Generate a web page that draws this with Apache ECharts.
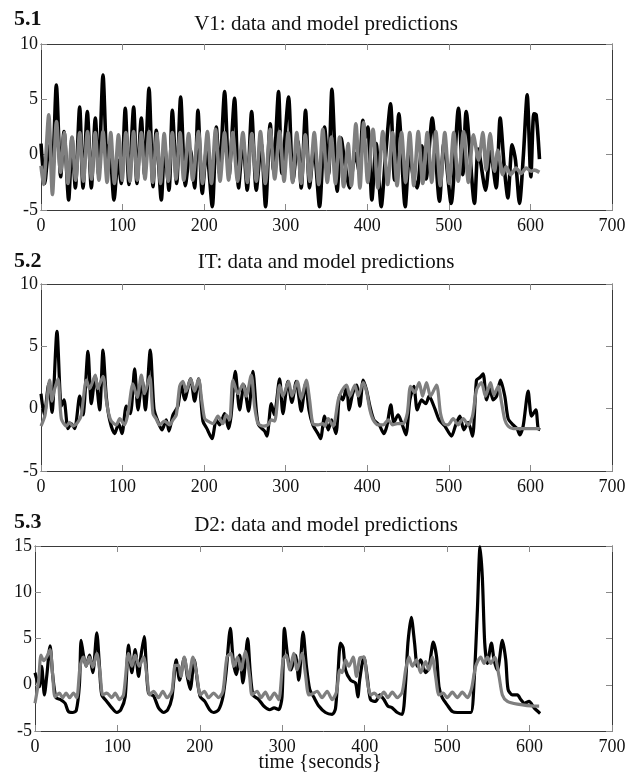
<!DOCTYPE html>
<html>
<head>
<meta charset="utf-8">
<script src="https://cdn.jsdelivr.net/npm/echarts@6/dist/echarts.min.js"></script>
<style>
html, body { margin: 0; padding: 0; background: #fff; }
#chart { width: 635px; height: 778px; }
</style>
</head>
<body>
<div id="chart"></div>
<script>
// V1 - data (black) and model (gray), read at the turning points
const v1DataT = [0, 4.5, 10, 14, 18.8, 24.1, 28.2, 33.9, 38, 42.1, 47.4, 51.5, 56.8, 61.7, 66.6, 70.7, 76, 81.3, 84, 89.5, 94.4, 98.4, 103.3, 107.8, 113.6, 117.6, 123, 127, 132.4, 137.3, 141.3, 147.5, 151.5, 156.9, 161, 166.3, 171.2, 177, 183, 188.3, 192.4, 197.7, 203, 210, 214.9, 218.9, 225.1, 230.4, 237.3, 242.2, 247.5, 252.8, 258.2, 263.9, 270, 275.3, 281, 285.1, 291.2, 295.3, 303.5, 308.8, 314.9, 319, 324.3, 329.2, 334.5, 341.5, 347.6, 352.5, 356.6, 363.1, 368, 372, 378.3, 385.2, 390, 394.6, 397.5, 400.7, 405.6, 410.9, 417.1, 422, 428.5, 433.4, 438.7, 446.5, 451.8, 456, 461.2, 467, 472, 479.6, 488.5, 493.9, 502.8, 511.8, 517.1, 521.2, 531.4, 536, 545, 551, 558, 562.9, 568.2, 572.3, 577.6, 581.7, 586.6, 591.5, 596, 600.5, 604.2, 607, 611.1]
const v1DataV = [1.0, -2.6, 0.8, -0.8, 6.3, -2.0, 2.1, -4.1, 1.5, -3.0, 4.3, -3.0, 3.9, -3.0, 3.3, -1.8, 7.2, -1.4, 1.0, -4.1, -0.5, -2.6, 4.2, -2.7, 4.3, -2.6, 3.3, -1.8, 6.0, -2.9, 2.2, -4.1, 0.7, -3.2, 4.0, -2.6, 5.2, -2.8, 0.5, -3.0, 4.0, -3.5, 0.5, -4.7, 2.5, -1.7, 5.7, -2.0, 5.1, -3.0, 1.3, -3.2, 3.9, -3.2, 1.0, -4.7, 2.8, -1.4, 5.7, -1.7, 5.2, -2.4, 1.2, -3.0, 4.0, -3.0, 0.7, -4.7, 2.5, -1.8, 5.9, -3.3, 1.5, -0.5, -3.0, 0.1, -1.5, 3.1, 1.5, 2.5, -4.1, 1.0, -4.7, -0.5, 4.6, -2.3, 3.7, -4.7, 0.1, -1.8, -3.0, 0.8, -2.2, 3.3, -4.2, 1.0, -4.4, 4.2, -1.8, 3.9, -4.4, 0.5, -3.2, 0.3, -3.0, 3.3, -1.4, -3.9, 0.9, -0.5, -4.4, 0.1, 5.4, -2.0, 3.7, 3.6, -0.4]
const v1ModelT = [0, 3, 9.5, 14, 19, 24, 28.5, 33, 38, 42.5, 47.5, 52, 57, 62, 66.5, 71, 76, 81, 85.5, 90, 95, 99.5, 104, 109, 113.5, 118, 123, 127.5, 132.5, 137, 142, 146.5, 151, 156, 161, 165.5, 170.5, 175, 181, 186, 193, 198, 204, 209, 214, 219.5, 225, 230, 235, 241, 247.5, 253, 258.5, 264, 269, 275, 281, 286.5, 292.5, 298, 303, 308.5, 313.5, 319, 324, 329.5, 335, 340.5, 345.5, 351, 356, 361, 366, 371, 376.5, 380.5, 386, 391, 395.5, 400.5, 407, 413, 419, 425, 431, 436.5, 442, 447, 452, 457, 462.5, 468, 473.5, 479, 484, 489.5, 495, 500.5, 506, 511.5, 518, 524, 530, 536.5, 541.7, 545.7, 550.6, 556, 560, 566, 570, 576, 582.5, 588.6, 594.8, 601, 605, 611]
const v1ModelV = [-1.0, -2.7, 3.6, -3.6, 3.0, -1.6, 2.0, -2.6, 1.6, -2.3, 2.0, -2.4, 2.1, -2.2, 2.0, -2.3, 2.1, -2.5, 2.0, -2.6, 1.8, -2.3, 2.0, -2.4, 2.1, -2.3, 2.0, -2.2, 2.1, -2.5, 1.9, -2.6, 1.9, -2.4, 2.0, -2.2, 2.0, -2.3, 1.9, -2.3, 2.1, -2.6, 2.1, -2.6, 2.3, -2.4, 2.0, -2.3, 2.0, -2.4, 2.0, -2.5, 1.9, -2.4, 2.1, -2.6, 2.3, -2.2, 2.1, -2.4, 2.0, -2.5, 2.0, -2.6, 1.8, -2.4, 2.0, -2.7, 2.3, -2.5, 1.6, -2.6, 1.6, -2.9, 1.0, -2.8, 2.8, -3.0, 2.9, -2.5, 2.3, -3.0, 2.1, -2.7, 2.0, -2.8, 2.0, -2.5, 2.0, -2.8, 2.1, -2.6, 2.0, -2.5, 2.1, -2.8, 2.0, -2.6, 2.0, -2.4, 2.1, -2.5, 1.8, -0.5, 2.0, -1.4, 1.9, -1.5, 0.4, -1.8, -1.1, -1.8, -1.2, -1.7, -1.2, -1.5, -1.4, -1.6]

// IT
const itDataT = [0, 4, 9.5, 13.5, 19.6, 24.9, 28.2, 33.1, 37, 41.3, 47.4, 51.5, 57.6, 61.7, 66.6, 71.9, 76, 80, 84.1, 90.3, 95.2, 99.3, 104.6, 109.5, 114.8, 118.9, 124.2, 127.9, 134, 138.5, 142.6, 148.3, 153.6, 156.9, 161.8, 167.9, 172, 176.1, 183.4, 188.3, 193.2, 198.5, 203.4, 209.6, 214.9, 219, 225.1, 230, 233, 238.2, 243.5, 248.8, 254.5, 259.8, 263.9, 266.7, 274.1, 277, 282.3, 286, 292.5, 296.6, 302.7, 307.6, 312.9, 319, 324.3, 328.5, 333.3, 339.5, 342.7, 347.6, 352.1, 356.2, 361.5, 366.4, 370, 374.6, 377.8, 382, 386.8, 390.9, 395, 399, 403.2, 408.1, 414.6, 420.3, 424, 428.9, 432.6, 437.9, 442, 447.3, 452.2, 457.1, 461.2, 466.5, 471.8, 475.8, 482.8, 488.1, 495.1, 503.3, 508.4, 513.5, 518.4, 523.7, 529, 533.9, 538, 542, 546.2, 550.3, 554.3, 558.5, 563.3, 568.6, 572.7, 578.8, 583.7, 587, 591.1, 597.2, 601.3, 606.6, 609.5, 612]
const itDataV = [1.2, -0.5, 2.0, -0.3, 6.2, 0.2, 0.7, -1.6, -1.2, -1.6, 1.0, -0.5, 4.6, 0.4, 2.6, -0.1, 4.7, 1.0, -0.9, -2.0, -1.2, -2.0, 0.2, -0.4, 3.2, -0.1, 2.3, -0.1, 4.7, 0.0, -0.9, -1.7, -0.9, -1.8, -0.5, 0.2, 2.0, 0.7, 2.4, 0.6, 2.4, -1.0, -1.6, -2.4, -0.9, -1.3, -0.4, -1.6, -0.6, 3.0, -0.1, 1.9, -0.2, 3.0, -0.1, -1.3, -1.8, -2.2, 0.4, -0.5, 2.4, -0.4, 2.2, 0.5, 2.2, -0.2, 2.0, -0.1, -1.3, -2.0, -2.4, -0.6, -1.7, -0.9, -2.0, 1.1, 0.7, 1.8, -0.1, 1.2, 1.9, 0.2, 2.3, 1.5, 0.2, -0.9, -1.3, -2.0, -1.4, 0.3, -1.1, -0.5, -1.1, -2.1, 0.7, 1.8, -0.1, 0.7, 0.4, 1.0, 0.0, -0.9, -1.4, -2.2, -1.3, -0.6, -1.7, -1.1, -2.2, 2.3, 2.5, 2.8, 0.7, 1.6, 0.7, 1.0, 2.3, 1.0, -0.8, -1.3, -1.6, -2.1, -1.4, 1.4, -0.6, -0.1, -1.6, -1.7]
const itModelT = [0, 5, 10.6, 13.5, 16, 20.8, 24.9, 31, 35, 39, 45, 49.4, 55.6, 59.5, 66.6, 69.5, 76, 80, 83, 86.2, 92.3, 96.5, 102.5, 106.6, 112.7, 118, 123, 127, 133.2, 137.3, 141, 145.4, 151.5, 157.7, 161.8, 165.9, 170, 174, 178, 183.4, 188.3, 193.2, 197, 200.6, 204.7, 210.8, 216.9, 222.9, 227, 231.2, 235.3, 241.4, 247.6, 251.6, 257.8, 261.8, 266, 272.1, 278, 282.3, 286.4, 292.5, 296.6, 303.5, 307.6, 314.1, 319, 325.2, 329.3, 333.3, 339.5, 345.6, 348, 352.1, 358.2, 364.4, 368.5, 374.6, 378.7, 384.8, 388.9, 395, 399, 403.2, 407.3, 413.4, 419.5, 425.6, 431, 436.7, 444, 449, 453, 458, 463.6, 467.7, 472.6, 477.5, 484.9, 489.8, 493.9, 499, 505.3, 511.4, 517.6, 523.7, 529, 533.9, 540, 544.9, 551.1, 555.2, 560.5, 564.6, 568.6, 572.7, 578.8, 611.5]
const itModelV = [-1.4, -0.5, 2.3, 0.6, 1.4, 2.4, -0.8, -1.4, -1.1, -1.4, -1.1, -0.5, 2.3, 1.6, 2.7, 1.6, 2.6, 0.7, -0.4, -1.0, -1.3, -0.8, -1.3, -0.4, 2.0, 0.9, 2.7, 1.2, 2.6, -0.4, -0.8, -1.3, -1.0, -1.3, -0.9, -0.5, 1.8, 2.2, 1.4, 2.4, 1.4, 2.4, 0.7, -0.8, -1.0, -1.2, -0.6, -1.2, -0.5, -0.9, 2.3, 1.2, 2.0, 1.0, 2.7, 0.2, -1.2, -1.4, -1.3, -0.9, -1.0, 1.9, 1.0, 2.2, 1.0, 2.2, 0.8, 2.3, 0.7, -1.2, -1.3, -1.2, -1.4, -0.8, -1.4, 0.7, 1.4, 1.9, 1.0, 1.9, 1.0, 2.1, 1.4, -0.1, -0.9, -1.3, -1.3, -0.9, -1.3, -1.2, -1.2, -0.4, 1.8, 1.3, 2.1, 1.0, 2.1, 1.0, 1.9, -0.4, -1.2, -1.3, -0.8, -1.3, -0.8, -1.3, -0.6, 1.5, 2.1, 1.0, 2.1, 1.1, 1.8, 0.5, -0.9, -1.4, -1.6, -1.6]

// D2
const d2DataT = [0, 5.3, 8.1, 11.4, 14.2, 18.3, 21.5, 25.5, 31, 36.5, 40.5, 45.8, 50, 53.9, 55.9, 58.8, 62, 66, 70.1, 75, 78.2, 81, 87.1, 93.2, 99.3, 104.1, 109.4, 113.4, 117.5, 121.5, 125.6, 128.4, 132.5, 135, 137.7, 143.8, 149.9, 156, 161, 166.1, 171.3, 175.4, 181.1, 185.1, 188.4, 193.2, 197.3, 200.5, 206, 211.8, 216.7, 222.8, 228, 232, 237, 240.5, 244.2, 248.3, 252.3, 258, 261, 264.5, 271.4, 277.5, 284.7, 290, 295.7, 299.7, 302.6, 306.6, 310.6, 315.9, 320, 325.2, 329.3, 333.3, 338, 344.3, 352.4, 360.5, 364.5, 367.4, 370.6, 373.8, 376.7, 382.8, 388.8, 391.7, 394, 399, 403, 407, 413.1, 418.4, 423.3, 428.1, 433.4, 439.5, 445.5, 449.6, 452.4, 456.5, 460.5, 463.8, 467.8, 473.9, 477.9, 483.2, 487.2, 490.1, 494.1, 500.2, 506.3, 512.4, 518.4, 528.6, 532.6, 536.7, 539.9, 542.7, 545.6, 548.8, 553.7, 556.9, 561, 567, 571.1, 573.9, 579.2, 585.3, 589.3, 594, 599.4, 605.5, 612.8]
const d2DataV = [1.3, -0.2, 2.0, -1.1, 0.9, 4.2, 1.0, -1.4, -1.6, -2.0, -2.9, -3.0, -2.8, 0.0, 4.8, 3.2, 2.0, 3.2, 1.3, 5.6, 2.0, -1.1, -1.8, -2.5, -3.0, -2.7, -1.3, 4.3, 1.3, 3.8, 0.9, 3.0, 5.2, 2.0, -0.9, -1.2, -2.5, -3.0, -2.7, -1.4, 2.7, 0.5, 2.9, 0.7, -0.5, 2.7, 0.2, -1.3, -1.8, -2.7, -3.0, -2.7, -1.3, 1.5, 6.1, 2.6, 1.1, 3.2, 0.2, 5.0, 1.5, -1.1, -1.6, -2.3, -2.7, -2.5, -2.7, -1.3, 6.1, 3.0, 1.6, 3.2, 0.5, 5.7, 2.0, -0.5, -1.3, -2.3, -3.0, -3.2, -2.6, 0.9, 4.5, 4.0, 1.6, 0.5, 0.2, -1.3, 0.6, 3.0, 0.9, -1.6, -1.8, -1.1, -1.6, -2.3, -2.5, -3.0, -3.2, 0.2, 4.5, 7.3, 4.5, 2.0, 2.7, 1.3, 1.8, 4.6, 3.0, -0.2, -1.4, -2.2, -2.9, -3.0, -3.0, -3.0, 0.2, 8.1, 14.9, 11.6, 4.5, 2.3, 4.5, 2.7, 1.6, 4.8, 2.7, -0.5, -1.1, -1.1, -1.6, -2.0, -1.8, -2.5, -3.1]
const d2ModelT = [0, 4.1, 7.3, 10.5, 14.2, 18.3, 21.5, 24.3, 29.6, 33.5, 37.7, 42, 46.6, 50.6, 54.7, 58.8, 62, 66, 70.1, 75, 79, 82.2, 87.1, 93.2, 97.2, 102.5, 107.4, 113.4, 117.5, 121.5, 126.4, 131.7, 135.8, 139, 143.8, 149.9, 155.1, 160, 166.1, 170.1, 174.2, 177, 181.1, 186.3, 191.6, 196.5, 200.5, 205.4, 210.6, 216.7, 222.8, 228, 232.9, 237.8, 241, 245.9, 249.9, 255.2, 260.4, 263.3, 269.4, 274.2, 279.5, 284.7, 290.4, 295.7, 301, 305, 309, 313.9, 318, 324, 328, 332.1, 336.2, 342.3, 348.3, 354.4, 360.5, 365.7, 369.8, 372.6, 376.7, 380.8, 386, 390, 394.1, 399, 403, 407, 411.8, 417.2, 423.3, 428.1, 433.4, 439.5, 445.5, 449.6, 453.6, 457.7, 462.9, 467.8, 473.9, 477.9, 482, 486, 490.1, 495.2, 500.2, 506.3, 512.4, 518.4, 524.5, 529.4, 534.6, 540.7, 544.8, 548.8, 553, 557.7, 563, 567, 573.1, 585.3, 605.5, 611.6]
const d2ModelV = [-2.0, 0.2, 3.2, 2.6, 3.0, 3.8, 1.0, -1.3, -0.9, -1.4, -0.9, -1.4, -0.9, -1.4, 2.0, 3.0, 2.0, 3.0, 1.9, 3.4, 1.2, -1.1, -0.9, -1.4, -0.9, -1.6, -1.1, 3.4, 2.0, 3.2, 2.0, 3.0, 0.9, -1.1, -0.7, -1.4, -0.7, -1.4, -0.7, 2.1, 2.1, 0.9, 3.0, 0.7, 3.0, 0.9, -1.1, -0.7, -1.4, -0.9, -1.4, -0.7, 3.0, 3.4, 2.0, 3.0, 1.6, 3.6, 0.9, -1.1, -0.7, -1.4, -0.8, -1.6, -0.9, -1.6, 2.7, 3.2, 1.6, 3.4, 1.6, 3.4, 1.2, -1.1, -1.0, -0.7, -1.4, -0.7, -1.6, -0.8, 1.6, 1.3, 2.7, 2.0, 3.0, 0.9, 2.9, 3.0, 0.5, -1.1, -0.9, -1.4, -0.8, -1.4, -0.8, -1.4, -0.8, 1.6, 3.0, 2.0, 2.7, 1.3, 2.5, 1.6, 3.0, 0.9, -1.1, -0.9, -1.4, -0.8, -1.4, -0.8, -1.4, -0.5, 2.0, 3.0, 2.3, 3.0, 2.3, 3.0, 0.9, -1.1, -1.8, -2.1, -2.3, -2.3]

const panelTitles = ['V1: data and model predictions', 'IT: data and model predictions', 'D2: data and model predictions']
const panelLabels = ['5.1', '5.2', '5.3']
const yRanges = [[-5, 10], [-5, 10], [-5, 15]]

const serif = 'Liberation Serif'
const frame = '#3a3a3a'
const tickColor = '#8a8a8a'

function pairs(t, v) {
  return t.map((x, i) => [x, v[i]])
}

const grids = [
  { left: 41, top: 44, width: 571, height: 166 },
  { left: 41, top: 284, width: 571, height: 187 },
  { left: 35, top: 546, width: 577, height: 185 }
]

const xAxes = []
const yAxes = []
grids.forEach((g, i) => {
  xAxes.push({
    type: 'value', gridIndex: i, min: 0, max: 700, interval: 100, position: 'bottom',
    axisLine: { show: true, onZero: false, lineStyle: { color: frame, width: 1 } },
    axisTick: { show: true, inside: true, length: 6, lineStyle: { color: tickColor } },
    axisLabel: { fontFamily: serif, fontSize: 18, color: '#111', margin: 7 },
    splitLine: { show: false }
  })
  xAxes.push({
    type: 'value', gridIndex: i, min: 0, max: 700, interval: 100, position: 'top',
    axisLine: { show: true, onZero: false, lineStyle: { color: frame, width: 1 } },
    axisTick: { show: true, inside: true, length: 6, lineStyle: { color: tickColor } },
    axisLabel: { show: false },
    splitLine: { show: false }
  })
  yAxes.push({
    type: 'value', gridIndex: i, min: yRanges[i][0], max: yRanges[i][1], interval: 5, position: 'left',
    axisLine: { show: true, onZero: false, lineStyle: { color: frame, width: 1 } },
    axisTick: { show: true, inside: true, length: 6, lineStyle: { color: tickColor } },
    axisLabel: { fontFamily: serif, fontSize: 18, color: '#111', margin: 3, showMinLabel: true, showMaxLabel: true },
    splitLine: { show: false }
  })
  yAxes.push({
    type: 'value', gridIndex: i, min: yRanges[i][0], max: yRanges[i][1], interval: 5, position: 'right',
    axisLine: { show: true, onZero: false, lineStyle: { color: frame, width: 1 } },
    axisTick: { show: true, inside: true, length: 6, lineStyle: { color: tickColor } },
    axisLabel: { show: false },
    splitLine: { show: false }
  })
})

// first panel is drawn with a slightly heavier pen
const penWidth = [3.6, 3.2, 3.2]

function lineSeries(i, t, v, color) {
  return {
    type: 'line', xAxisIndex: i * 2, yAxisIndex: i * 2,
    data: pairs(t, v), showSymbol: false, smooth: 0.25,
    lineStyle: { color: color, width: penWidth[i] },
    silent: true
  }
}

const titleTops = [14, 252, 515]
const labelTops = [8, 250, 511]
const titles = []
panelTitles.forEach((txt, i) => {
  titles.push({
    text: txt, left: 326, top: titleTops[i], textAlign: 'center', padding: 0,
    textStyle: { fontFamily: serif, fontSize: 21, fontWeight: 'normal', color: '#111' }
  })
  titles.push({
    text: panelLabels[i], left: 14, top: labelTops[i], padding: 0,
    textStyle: { fontFamily: serif, fontSize: 22, fontWeight: 'bold', color: '#111' }
  })
})
titles.push({
  text: 'time {seconds}', left: 320, top: 753, textAlign: 'center', padding: 0,
  textStyle: { fontFamily: serif, fontSize: 20, fontWeight: 'normal', color: '#111' }
})

const chart = echarts.init(document.getElementById('chart'), null, { renderer: 'canvas' })
chart.setOption({
  animation: false,
  backgroundColor: '#fff',
  title: titles,
  grid: grids,
  xAxis: xAxes,
  yAxis: yAxes,
  series: [
    lineSeries(0, v1DataT, v1DataV, '#000'),
    lineSeries(0, v1ModelT, v1ModelV, '#7f7f7f'),
    lineSeries(1, itDataT, itDataV, '#000'),
    lineSeries(1, itModelT, itModelV, '#7f7f7f'),
    lineSeries(2, d2DataT, d2DataV, '#000'),
    lineSeries(2, d2ModelT, d2ModelV, '#7f7f7f')
  ]
})
</script>
</body>
</html>
